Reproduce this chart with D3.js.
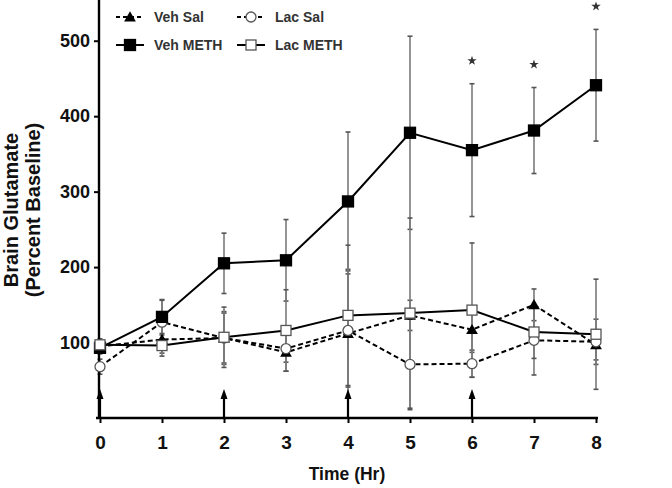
<!DOCTYPE html>
<html><head><meta charset="utf-8">
<script src="https://cdn.jsdelivr.net/npm/d3@7"></script>
<style>body{margin:0;background:#fff}svg{display:block}text{font-family:Arial,"Liberation Sans",sans-serif;font-weight:bold}</style>
</head><body>
<svg id="c" width="672" height="488"></svg>
<script>
const hours = [0,1,2,3,4,5,6,7,8];
const xTickLabels = ["0","1","2","3","4","5","6","7","8"];
const yTickValues = [100,200,300,400,500];
const vehSal     = [95, 104, 106, 87, 112, 136, 117, 150, 97];
const vehSalErr  = [6, 18, 33, 25, 85, 20, 30, 21, 20];
const lacSal     = [68, 127, 106, 92, 116, 71, 72, 103, 101];
const lacSalErr  = [10, 30, 35, 18, 75, 60, 18, 46, 30];
const vehMeth    = [93, 134, 205, 209, 287, 378, 355, 381, 441];
const vehMethErr = [8, 22, 40, 54, 92, 128, 88, 57, 74];
const lacMeth    = [97, 96, 107, 116, 136, 139, 143, 114, 111];
const lacMethErr = [8, 14, 40, 54, 93, 126, 89, 35, 73];
const injectionHours = [0, 2, 4, 6];
const significantHours = [6, 7, 8];

const series = [
  {name:"Veh Sal", values:vehSal, err:vehSalErr, dash:"5,3", marker:"triangle", fill:"#000"},
  {name:"Lac Sal", values:lacSal, err:lacSalErr, dash:"5,3", marker:"circle", fill:"#fff"},
  {name:"Veh METH", values:vehMeth, err:vehMethErr, dash:null, marker:"square", fill:"#000"},
  {name:"Lac METH", values:lacMeth, err:lacMethErr, dash:null, marker:"square", fill:"#fff"}
];

const svg = d3.select("#c");
const x = d3.scaleLinear().domain([0,8]).range([100,596]);
const y = d3.scaleLinear().domain([0,550]).range([418,3]);

// error bars
const eg = svg.append("g");
series.forEach(s=>{
  hours.forEach((h,i)=>{
    const v=s.values[i], e=s.err[i];
    eg.append("line").attr("x1",x(h)).attr("x2",x(h)).attr("y1",y(v+e)).attr("y2",y(v-e))
      .attr("stroke","#7a7a7a").attr("stroke-width",1.6);
    [v+e,v-e].forEach(c=>eg.append("line").attr("x1",x(h)-2.5).attr("x2",x(h)+2.5).attr("y1",y(c)).attr("y2",y(c))
      .attr("stroke","#555").attr("stroke-width",1.6));
  });
});

// axes
const xAxis = d3.axisBottom(x).tickValues(hours).tickFormat((d,i)=>xTickLabels[i]).tickSize(5).tickPadding(13);
const gx = svg.append("g").attr("transform","translate(0,418)").call(xAxis);
gx.select(".domain").attr("d","M96,0H598").attr("stroke","#000").attr("stroke-width",2.4);
gx.selectAll(".tick line").attr("stroke","#000").attr("stroke-width",2);
gx.selectAll(".tick text").attr("font-size",19).attr("fill","#111").attr("font-family","Arial, 'Liberation Sans', sans-serif");

const yAxis = d3.axisLeft(y).tickValues(yTickValues).tickSize(5).tickPadding(4);
const gy = svg.append("g").attr("transform","translate(99,0)").call(yAxis);
gy.select(".domain").attr("d","M0,0V418").attr("stroke","#000").attr("stroke-width",2.4);
gy.selectAll(".tick line").attr("stroke","#000").attr("stroke-width",2);
gy.selectAll(".tick text").attr("font-size",18).attr("fill","#111").attr("font-family","Arial, 'Liberation Sans', sans-serif");

// injection arrows
injectionHours.forEach(h=>{
  svg.append("line").attr("x1",x(h)).attr("x2",x(h)).attr("y1",417).attr("y2",396)
    .attr("stroke","#000").attr("stroke-width",2.2);
  svg.append("path").attr("d",`M${x(h)-3.5},${399}L${x(h)},${389}L${x(h)+3.5},${399}Z`).attr("fill","#000");
});

// lines
const line = d3.line().x((d,i)=>x(hours[i])).y(d=>y(d));
series.forEach(s=>{
  svg.append("path").datum(s.values).attr("d",line).attr("fill","none")
    .attr("stroke","#000").attr("stroke-width",2).attr("stroke-dasharray",s.dash);
});

function drawMarker(g, type, fill, cx, cy){
  if(type==="square"){
    const sz = fill==="#000"?11:10;
    g.append("rect").attr("x",cx-sz/2).attr("y",cy-sz/2).attr("width",sz).attr("height",sz)
      .attr("fill",fill).attr("stroke",fill==="#000"?"#000":"#555").attr("stroke-width",1.3);
  } else if(type==="circle"){
    g.append("circle").attr("cx",cx).attr("cy",cy).attr("r",5).attr("fill",fill).attr("stroke","#555").attr("stroke-width",1.3);
  } else {
    g.append("path").attr("d",d3.symbol(d3.symbolTriangle,60)()).attr("transform",`translate(${cx},${cy+1})`).attr("fill","#000");
  }
}
const mg = svg.append("g");
series.forEach(s=>{
  hours.forEach((h,i)=>drawMarker(mg,s.marker,s.fill,x(h),y(s.values[i])));
});

// significance stars
significantHours.forEach(h=>{
  const i = hours.indexOf(h);
  const top = y(vehMeth[i]+vehMethErr[i]) - 23;
  svg.append("path").attr("d",d3.symbol(d3.symbolStar,28)()).attr("transform",`translate(${x(h)},${Math.max(top,5)})`).attr("fill","#333");
});

// legend
const legendPos = [[116,17],[237,17],[116,45],[237,45]];
series.forEach((s,k)=>{
  const [lx,ly] = legendPos[k];
  const g = svg.append("g");
  g.append("line").attr("x1",lx).attr("x2",lx+28).attr("y1",ly).attr("y2",ly)
    .attr("stroke","#000").attr("stroke-width",2).attr("stroke-dasharray",s.dash?"4,3":null);
  drawMarker(g,s.marker,s.fill,lx+14,ly);
  g.append("text").attr("x",lx+38).attr("y",ly+5).attr("font-size",14).attr("fill","#333").text(s.name);
});

// axis titles
svg.append("text").attr("transform","translate(18,210) rotate(-90)").attr("text-anchor","middle")
  .attr("font-size",20).attr("fill","#111").text("Brain Glutamate");
svg.append("text").attr("transform","translate(40,210) rotate(-90)").attr("text-anchor","middle")
  .attr("font-size",20).attr("fill","#111").text("(Percent Baseline)");
svg.append("text").attr("x",347).attr("y",480).attr("text-anchor","middle")
  .attr("font-size",17.5).attr("fill","#111").text("Time (Hr)");
</script>
</body></html>
